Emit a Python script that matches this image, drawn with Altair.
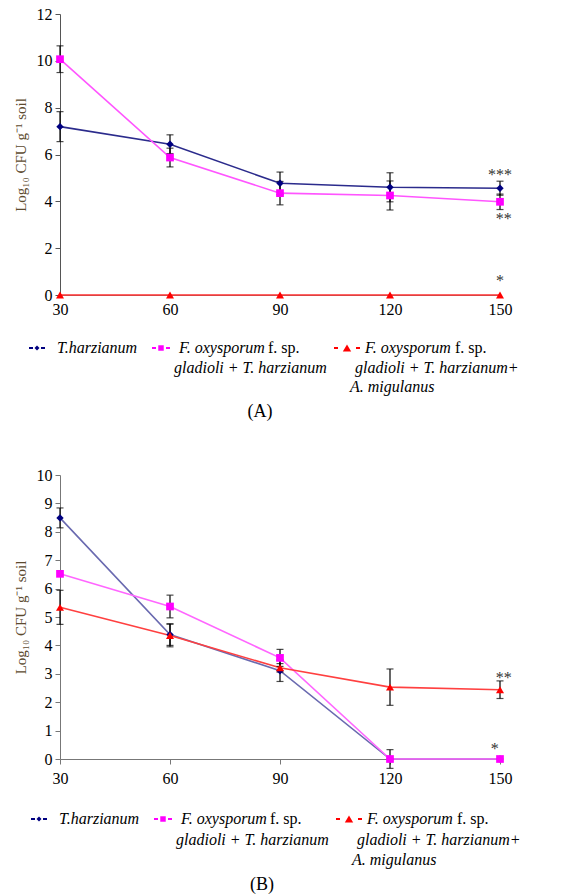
import altair as alt
import pandas as pd

SERIF = "Liberation Serif, Times New Roman, serif"

days = [30, 60, 90, 120, 150]
series = [
    "T.harzianum",
    "F. oxysporum f. sp. gladioli + T. harzianum",
    "F. oxysporum f. sp. gladioli + T. harzianum + A. migulanus",
]

# Panel A values (Log10 CFU g-1 soil) and standard errors
a_th = [7.19, 6.44, 4.77, 4.60, 4.56]
a_th_err = [0.64, 0.40, 0.48, 0.62, 0.30]
a_fo_th = [10.07, 5.87, 4.35, 4.25, 3.98]
a_fo_th_err = [0.57, 0.40, 0.50, 0.62, 0.33]
a_fo_th_am = [0.0, 0.0, 0.0, 0.0, 0.0]
a_fo_th_am_err = [0.0, 0.0, 0.0, 0.0, 0.0]

# Panel B values
b_th = [8.49, 4.38, 3.11, 0.0, 0.0]
b_th_err = [0.35, 0.38, 0.38, 0.33, 0.0]
b_fo_th = [6.52, 5.37, 3.56, 0.0, 0.0]
b_fo_th_err = [0.0, 0.40, 0.30, 0.0, 0.0]
b_fo_th_am = [5.34, 4.35, 3.21, 2.53, 2.44]
b_fo_th_am_err = [0.60, 0.40, 0.15, 0.64, 0.31]

# significance asterisks (x, y, text)
a_star_x = [150, 151, 150]
a_star_y = [5.28, 3.42, 0.78]
a_star_t = ["***", "**", "*"]
b_star_x = [151, 148.6]
b_star_y = [3.0, 0.5]
b_star_t = ["**", "*"]

mark_colors = ["#000080", "#FF00FF", "#FF0000"]
shapes = ["diamond", "square", "triangle-up"]
sizes = [55, 64, 75]


def long_df(vals, errs):
    rows = []
    for s, v, e in zip(series, vals, errs):
        for d, vv, ee in zip(days, v, e):
            rows.append({"series": s, "day": d, "value": vv, "err": ee,
                         "lo": vv - ee, "hi": vv + ee})
    return pd.DataFrame(rows)


def text_layer(txt, x, y, size=16, italic=False, align="left", color="black"):
    return alt.Chart(pd.DataFrame({"t": [txt]})).mark_text(
        font=SERIF, fontSize=size, fontStyle="italic" if italic else "normal",
        align=align, baseline="middle", color=color,
    ).encode(x=alt.value(x), y=alt.value(y), text="t:N")


def legend_symbol(cx, cy, shape, color, size, half):
    one = pd.DataFrame({"k": [0]})
    dash_l = alt.Chart(one).mark_rule(color=color, strokeWidth=2).encode(
        x=alt.value(cx - half), x2=alt.value(cx - half + 4), y=alt.value(cy))
    dash_r = alt.Chart(one).mark_rule(color=color, strokeWidth=2).encode(
        x=alt.value(cx + half - 4), x2=alt.value(cx + half), y=alt.value(cy))
    pt = alt.Chart(one).mark_point(filled=True, opacity=1, color=color).encode(
        x=alt.value(cx), y=alt.value(cy), shape=alt.value(shape), size=alt.value(size))
    return [dash_l, dash_r, pt]


def panel(df, star_x, star_y, star_t, ymax, step, height, line_colors,
          xtick, rows_y, cap_y, caption, dx, axis_color):
    xscale = alt.Scale(domain=[30, 150], nice=False)
    xaxis = alt.Axis(values=days, grid=False, title=None, labelFont=SERIF,
                     labelFontSize=16, labelColor="black", domainColor="#777",
                     tickColor="#777", tickSize=xtick, labelPadding=6,
                     labelFlush=False)
    x = alt.X("day:Q", scale=xscale, axis=xaxis)
    yaxis = alt.Axis(values=list(range(0, ymax + 1, step)), grid=False,
                     title="Log₁₀ CFU g⁻¹ soil", titleFont=SERIF, titleFontSize=15,
                     titleFontWeight="normal", titleColor="#5c4a2e", titlePadding=8,
                     labelFont=SERIF, labelFontSize=16, labelColor="black",
                     domainColor=axis_color, tickColor=axis_color, tickSize=5,
                     labelPadding=3)
    yscale = alt.Scale(domain=[0, ymax], nice=False)
    y = alt.Y("value:Q", scale=yscale, axis=yaxis)

    lines = alt.Chart(df).mark_line(strokeWidth=1.6).encode(
        x=x, y=y, order="day:Q",
        color=alt.Color("series:N", scale=alt.Scale(domain=series, range=line_colors),
                        legend=None))
    eb = df[df["err"] > 0]
    rules = alt.Chart(eb).mark_rule(color="black", strokeWidth=1.2).encode(
        x=x, y=alt.Y("lo:Q", scale=yscale, axis=yaxis), y2="hi:Q")
    cap_lo = alt.Chart(eb).mark_tick(orient="horizontal", size=7, thickness=1.2,
                                     color="black").encode(
        x=x, y=alt.Y("lo:Q", scale=yscale, axis=yaxis))
    cap_hi = alt.Chart(eb).mark_tick(orient="horizontal", size=7, thickness=1.2,
                                     color="black").encode(
        x=x, y=alt.Y("hi:Q", scale=yscale, axis=yaxis))
    points = alt.Chart(df).mark_point(filled=True, opacity=1).encode(
        x=x, y=y,
        color=alt.Color("series:N", scale=alt.Scale(domain=series, range=mark_colors),
                        legend=None),
        shape=alt.Shape("series:N", scale=alt.Scale(domain=series, range=shapes),
                        legend=None),
        size=alt.Size("series:N", scale=alt.Scale(domain=series, range=sizes),
                      legend=None))
    stars_df = pd.DataFrame({"x": star_x, "y": star_y, "t": star_t})
    stars = alt.Chart(stars_df).mark_text(font=SERIF, fontSize=16, color="#333",
                                          baseline="middle", dy=4).encode(
        x=alt.X("x:Q", scale=xscale, axis=xaxis),
        y=alt.Y("y:Q", scale=yscale, axis=yaxis), text="t:N")

    r1, r2, r3 = rows_y
    leg = []
    leg += legend_symbol(-23 + dx, r1, "diamond", mark_colors[0], 25, 8)
    leg.append(text_layer("T.harzianum", -3 + dx, r1, italic=True))
    leg += legend_symbol(101 + dx, r1, "square", mark_colors[1], 30, 9)
    leg.append(text_layer("F. oxysporum", 119 + dx, r1, italic=True))
    leg.append(text_layer("f. sp.", 208 + dx, r1))
    leg.append(text_layer("gladioli + T. harzianum", 114 + dx, r2, italic=True))
    leg += legend_symbol(287 + dx, r1, "triangle-up", mark_colors[2], 70, 13)
    leg.append(text_layer("F. oxysporum", 305 + dx, r1, italic=True))
    leg.append(text_layer("f. sp.", 395 + dx, r1))
    leg.append(text_layer("gladioli + T. harzianum+", 295 + dx, r2, italic=True))
    leg.append(text_layer("A. migulanus", 290 + dx, r3, italic=True))
    leg.append(text_layer(caption, 200 + dx, cap_y, size=18, align="center"))

    return alt.layer(lines, rules, cap_lo, cap_hi, points, stars, *leg).resolve_scale(
        color="independent", shape="independent", size="independent"
    ).properties(width=440, height=height)


dfA = long_df([a_th, a_fo_th, a_fo_th_am], [a_th_err, a_fo_th_err, a_fo_th_am_err])
dfB = long_df([b_th, b_fo_th, b_fo_th_am], [b_th_err, b_fo_th_err, b_fo_th_am_err])

chartA = panel(dfA, a_star_x, a_star_y, a_star_t, 12, 2, 281,
               ["#2b2b8c", "#ff55ff", "#ff3030"], 0, (334, 354, 373), 398, "(A)", 0,
               "#555")
chartB = panel(dfB, b_star_x, b_star_y, b_star_t, 10, 1, 284,
               ["#6a6ab0", "#ff66ff", "#ff4040"], 5, (344, 365, 385), 410, "(B)", 2,
               "#777")

chart = alt.vconcat(chartA, chartB, spacing=180, bounds="flush").properties(
    padding={"left": 13, "top": 6, "right": 5, "bottom": 3}
).configure_view(stroke=None)

chart.save("out.html", embed_options={"renderer": "svg", "actions": False})
